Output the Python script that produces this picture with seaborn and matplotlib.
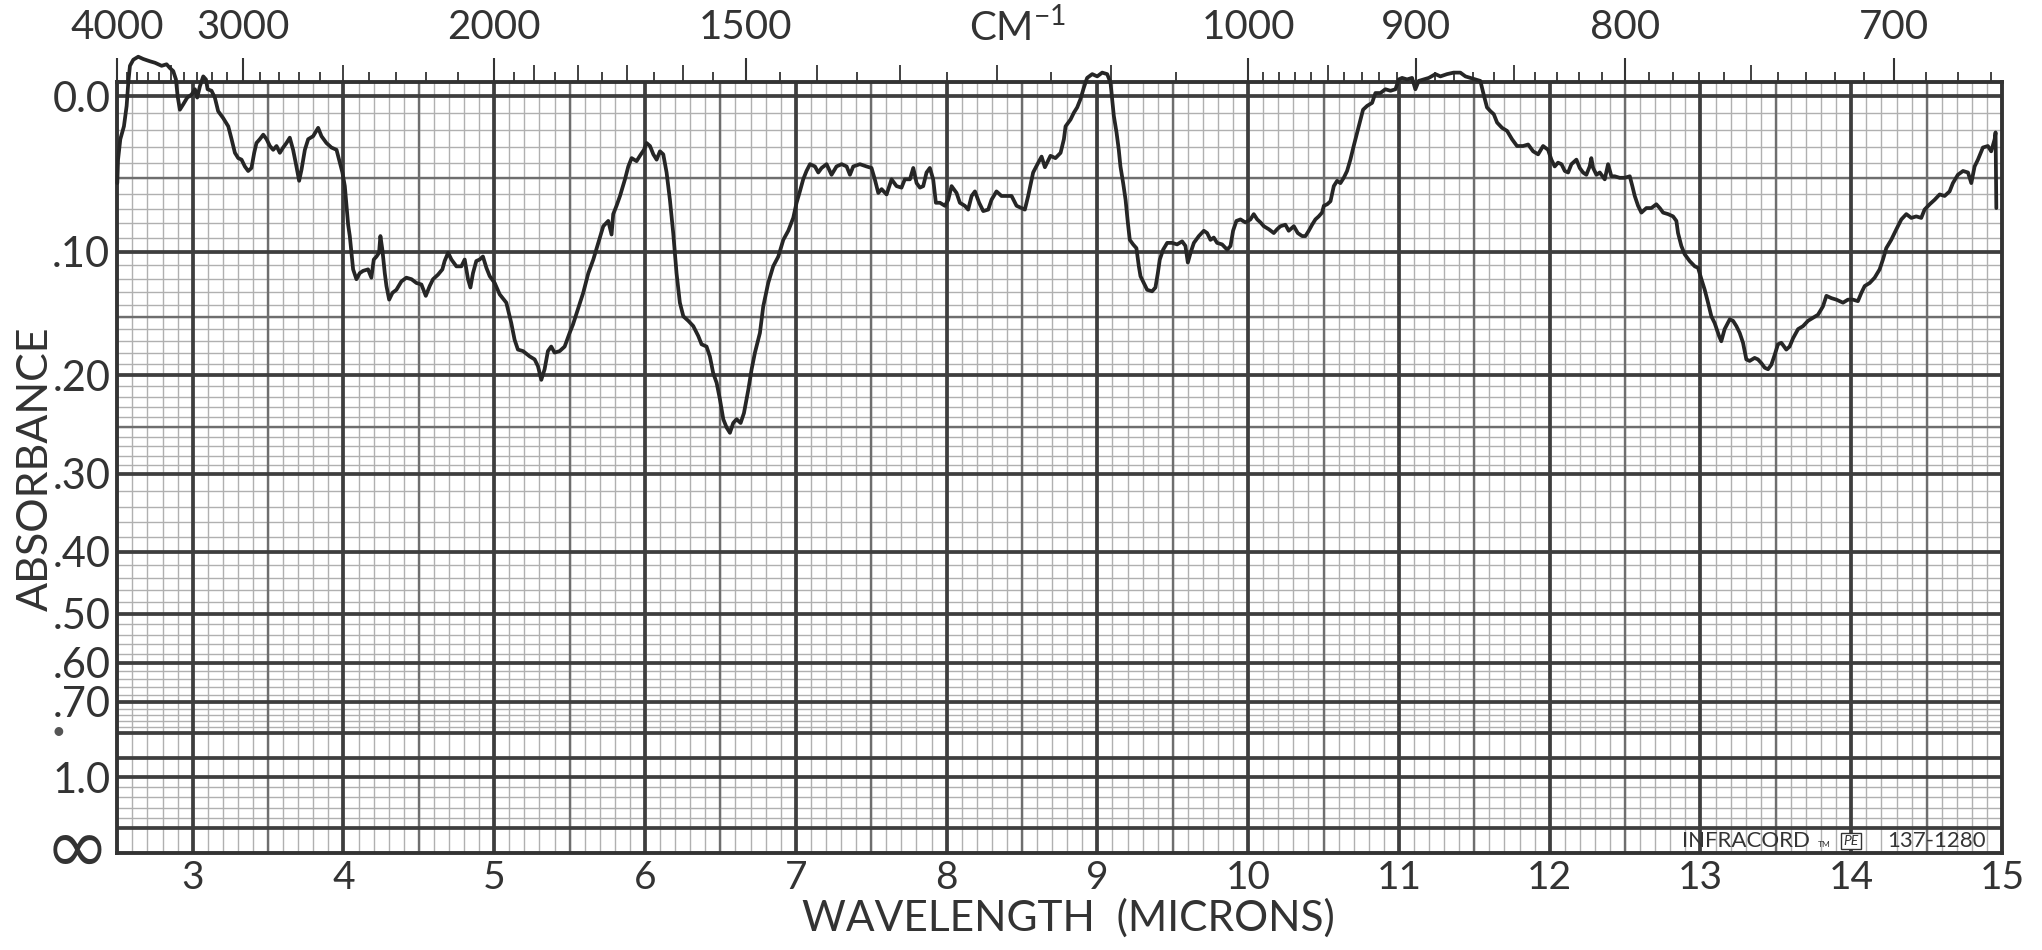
import numpy as np
import pandas as pd
import matplotlib
matplotlib.use("Agg")
import matplotlib.pyplot as plt
import seaborn as sns

# Lecturas del registro: longitud de onda (micras) y transmitancia (fraccion)
wl_1 = [2.500, 2.505, 2.520, 2.544, 2.562, 2.573, 2.584, 2.606, 2.639, 2.672,
        2.716, 2.750, 2.794, 2.827, 2.849, 2.871, 2.889, 2.900, 2.915, 2.937,
        2.964, 2.993, 3.015, 3.030, 3.048, 3.070, 3.088, 3.099, 3.125, 3.147,
        3.169, 3.202, 3.236, 3.258, 3.280, 3.302, 3.324, 3.346, 3.368, 3.390,
        3.408, 3.423, 3.445, 3.468, 3.490, 3.512, 3.534, 3.556, 3.578, 3.600,
        3.622, 3.644, 3.666, 3.688, 3.706, 3.722, 3.744, 3.766, 3.799, 3.832,
        3.854, 3.887, 3.920, 3.954, 3.976, 3.993, 4.009, 4.020, 4.031, 4.042,
        4.053, 4.064, 4.086, 4.108, 4.130, 4.163, 4.185, 4.201, 4.219, 4.236,
        4.245, 4.258, 4.274, 4.285, 4.303, 4.325, 4.351, 4.384, 4.417, 4.451,
        4.484, 4.517, 4.546, 4.572, 4.594, 4.627, 4.656, 4.671, 4.694, 4.716,
        4.749, 4.782, 4.804, 4.826, 4.842, 4.859, 4.881, 4.903, 4.925, 4.948,
        4.970, 5.003, 5.036, 5.080, 5.113, 5.135, 5.157, 5.191, 5.235, 5.268,
        5.290, 5.312, 5.334, 5.356, 5.378, 5.400, 5.434, 5.467, 5.500, 5.522]
tr_1 = [0.885, 0.916, 0.943, 0.960, 0.987, 1.018, 1.040, 1.048, 1.052, 1.049,
        1.046, 1.044, 1.040, 1.042, 1.037, 1.033, 1.022, 1.000, 0.982, 0.989,
        0.998, 1.002, 1.009, 0.998, 1.013, 1.026, 1.022, 1.009, 1.007, 0.998,
        0.980, 0.971, 0.960, 0.943, 0.925, 0.918, 0.916, 0.907, 0.901, 0.905,
        0.925, 0.938, 0.943, 0.949, 0.943, 0.934, 0.929, 0.934, 0.925, 0.932,
        0.938, 0.945, 0.929, 0.907, 0.888, 0.903, 0.929, 0.943, 0.947, 0.958,
        0.947, 0.938, 0.932, 0.929, 0.912, 0.899, 0.881, 0.855, 0.830, 0.815,
        0.793, 0.771, 0.758, 0.766, 0.769, 0.771, 0.760, 0.784, 0.788, 0.793,
        0.815, 0.797, 0.766, 0.749, 0.731, 0.740, 0.744, 0.755, 0.760, 0.758,
        0.753, 0.751, 0.736, 0.749, 0.758, 0.764, 0.771, 0.782, 0.793, 0.784,
        0.775, 0.775, 0.784, 0.758, 0.747, 0.766, 0.782, 0.784, 0.788, 0.773,
        0.762, 0.753, 0.738, 0.727, 0.700, 0.678, 0.665, 0.663, 0.656, 0.652,
        0.643, 0.625, 0.639, 0.663, 0.669, 0.661, 0.663, 0.669, 0.687, 0.698]

wl_2 = [5.590, 5.624, 5.657, 5.690, 5.723, 5.756, 5.778, 5.789, 5.811, 5.834,
        5.867, 5.889, 5.911, 5.944, 5.966, 5.993, 6.010, 6.033, 6.055, 6.077,
        6.099, 6.121, 6.143, 6.165, 6.187, 6.209, 6.231, 6.254, 6.287, 6.320,
        6.353, 6.375, 6.408, 6.430, 6.452, 6.475, 6.497, 6.519, 6.541, 6.563,
        6.585, 6.607, 6.634, 6.656, 6.685, 6.707, 6.729, 6.762, 6.784, 6.817,
        6.850, 6.884, 6.917, 6.950, 6.983, 7.005, 7.027, 7.049, 7.071, 7.094,
        7.127, 7.149, 7.171, 7.204, 7.237, 7.270, 7.304, 7.337, 7.359, 7.381,
        7.425, 7.469, 7.502, 7.524, 7.547, 7.569, 7.602, 7.635, 7.668, 7.701,
        7.723, 7.757, 7.779, 7.801, 7.823, 7.845, 7.867, 7.889, 7.911, 7.929,
        7.956, 7.989, 8.011, 8.033, 8.066, 8.088, 8.121, 8.143, 8.166, 8.188,
        8.216, 8.243, 8.276, 8.298, 8.331, 8.364, 8.398, 8.431, 8.464, 8.497,
        8.519, 8.541, 8.574, 8.608]
tr_2 = [0.740, 0.766, 0.784, 0.806, 0.828, 0.835, 0.817, 0.844, 0.855, 0.868,
        0.890, 0.907, 0.918, 0.914, 0.921, 0.929, 0.938, 0.934, 0.923, 0.916,
        0.927, 0.923, 0.899, 0.863, 0.819, 0.766, 0.727, 0.709, 0.703, 0.696,
        0.683, 0.672, 0.669, 0.656, 0.634, 0.621, 0.599, 0.573, 0.562, 0.555,
        0.568, 0.573, 0.568, 0.581, 0.612, 0.639, 0.661, 0.687, 0.722, 0.753,
        0.775, 0.788, 0.810, 0.822, 0.839, 0.859, 0.874, 0.890, 0.901, 0.910,
        0.907, 0.899, 0.905, 0.910, 0.896, 0.907, 0.910, 0.907, 0.896, 0.907,
        0.910, 0.907, 0.905, 0.890, 0.872, 0.877, 0.870, 0.890, 0.881, 0.879,
        0.890, 0.890, 0.905, 0.885, 0.879, 0.881, 0.899, 0.905, 0.890, 0.859,
        0.859, 0.855, 0.863, 0.881, 0.872, 0.859, 0.855, 0.850, 0.868, 0.874,
        0.859, 0.848, 0.850, 0.863, 0.874, 0.868, 0.868, 0.868, 0.855, 0.852,
        0.850, 0.868, 0.899, 0.912]

wl_3 = [8.630, 8.652, 8.689, 8.722, 8.756, 8.778, 8.789, 8.822, 8.844, 8.866,
        8.888, 8.910, 8.932, 8.966, 8.999, 9.032, 9.065, 9.087, 9.098, 9.109,
        9.127, 9.142, 9.153, 9.171, 9.187, 9.202, 9.215, 9.237, 9.259, 9.275,
        9.286, 9.308, 9.330, 9.363, 9.385, 9.401, 9.414, 9.436, 9.463, 9.496,
        9.529, 9.562, 9.584, 9.600, 9.618, 9.640, 9.673, 9.706, 9.728, 9.750,
        9.772, 9.794, 9.827, 9.861, 9.883, 9.900, 9.922, 9.949, 9.982, 10.015,
        10.037, 10.060, 10.082, 10.104, 10.137, 10.170, 10.192, 10.214, 10.247, 10.269,
        10.303, 10.329, 10.358, 10.380, 10.402, 10.424, 10.446, 10.468, 10.490, 10.502,
        10.524, 10.546, 10.568, 10.590, 10.612, 10.634, 10.656, 10.678, 10.700, 10.723,
        10.745, 10.762, 10.789, 10.822, 10.844, 10.877, 10.910, 10.944, 10.977, 10.999,
        11.021, 11.054, 11.087, 11.109, 11.131, 11.165, 11.198, 11.242, 11.275, 11.319,
        11.363, 11.407, 11.441, 11.474, 11.507, 11.540, 11.562, 11.584, 11.607, 11.629,
        11.651, 11.684, 11.717, 11.750, 11.783]
tr_3 = [0.920, 0.906, 0.921, 0.918, 0.925, 0.943, 0.960, 0.969, 0.978, 0.985,
        0.996, 1.011, 1.024, 1.029, 1.026, 1.031, 1.029, 1.018, 0.996, 0.974,
        0.952, 0.929, 0.907, 0.885, 0.863, 0.833, 0.810, 0.804, 0.799, 0.775,
        0.762, 0.753, 0.744, 0.742, 0.747, 0.766, 0.784, 0.797, 0.806, 0.806,
        0.804, 0.808, 0.802, 0.780, 0.793, 0.806, 0.815, 0.822, 0.819, 0.810,
        0.813, 0.806, 0.804, 0.797, 0.802, 0.822, 0.835, 0.837, 0.833, 0.837,
        0.844, 0.837, 0.833, 0.828, 0.824, 0.819, 0.824, 0.828, 0.830, 0.822,
        0.828, 0.819, 0.815, 0.815, 0.822, 0.830, 0.837, 0.841, 0.846, 0.855,
        0.857, 0.861, 0.881, 0.888, 0.885, 0.892, 0.901, 0.916, 0.934, 0.952,
        0.969, 0.982, 0.987, 0.991, 1.004, 1.004, 1.009, 1.007, 1.009, 1.022,
        1.024, 1.022, 1.024, 1.009, 1.020, 1.022, 1.024, 1.029, 1.026, 1.029,
        1.031, 1.031, 1.026, 1.024, 1.022, 1.020, 1.002, 0.985, 0.980, 0.976,
        0.965, 0.958, 0.954, 0.943, 0.934]

wl_4 = [11.823, 11.857, 11.890, 11.923, 11.956, 11.989, 12.011, 12.033, 12.055, 12.078,
        12.100, 12.122, 12.144, 12.177, 12.199, 12.221, 12.243, 12.265, 12.276, 12.288,
        12.310, 12.332, 12.365, 12.387, 12.409, 12.431, 12.464, 12.497, 12.531, 12.548,
        12.564, 12.586, 12.608, 12.641, 12.674, 12.707, 12.730, 12.752, 12.785, 12.818,
        12.840, 12.851, 12.873, 12.895, 12.928, 12.962, 12.984, 13.006, 13.028, 13.050,
        13.072, 13.094, 13.123, 13.138, 13.160, 13.194, 13.216, 13.238, 13.260, 13.282,
        13.304, 13.326, 13.359, 13.381, 13.404, 13.426, 13.448, 13.470, 13.492, 13.514,
        13.536, 13.569, 13.591, 13.614, 13.647, 13.680, 13.713, 13.746, 13.779, 13.812,
        13.835, 13.868, 13.901, 13.945, 13.978, 14.011, 14.044, 14.067, 14.089, 14.122,
        14.155, 14.188, 14.210, 14.232, 14.265, 14.299, 14.332, 14.365, 14.398, 14.431,
        14.464, 14.486, 14.520, 14.553, 14.586, 14.619, 14.652, 14.674, 14.707, 14.741,
        14.774, 14.796, 14.818, 14.840, 14.873, 14.906, 14.928, 14.951, 14.957, 14.962]
tr_4 = [0.934, 0.936, 0.927, 0.923, 0.934, 0.929, 0.916, 0.907, 0.912, 0.910,
        0.901, 0.899, 0.910, 0.916, 0.905, 0.899, 0.896, 0.907, 0.918, 0.905,
        0.896, 0.899, 0.890, 0.910, 0.894, 0.894, 0.892, 0.892, 0.894, 0.881,
        0.868, 0.855, 0.846, 0.852, 0.852, 0.857, 0.852, 0.846, 0.844, 0.841,
        0.835, 0.819, 0.802, 0.791, 0.782, 0.775, 0.773, 0.758, 0.744, 0.727,
        0.709, 0.700, 0.683, 0.676, 0.692, 0.705, 0.703, 0.696, 0.687, 0.674,
        0.652, 0.650, 0.654, 0.652, 0.647, 0.641, 0.639, 0.645, 0.658, 0.672,
        0.674, 0.665, 0.669, 0.680, 0.692, 0.696, 0.703, 0.707, 0.711, 0.722,
        0.736, 0.733, 0.731, 0.727, 0.731, 0.731, 0.729, 0.740, 0.749, 0.753,
        0.760, 0.771, 0.784, 0.799, 0.810, 0.824, 0.837, 0.844, 0.839, 0.841,
        0.839, 0.850, 0.857, 0.863, 0.870, 0.868, 0.874, 0.885, 0.896, 0.901,
        0.899, 0.885, 0.907, 0.916, 0.932, 0.934, 0.927, 0.943, 0.952, 0.852]

for w, t in [(wl_1, tr_1), (wl_2, tr_2), (wl_3, tr_3), (wl_4, tr_4)]:
    assert len(w) == len(t)

# Escalas impresas en el papel
micron_ticks = list(range(3, 16))
abs_ticks = [0.0, 0.1, 0.2, 0.3, 0.4, 0.5, 0.6, 0.7, 1.0]
abs_labels = ["0.0", ".10", ".20", ".30", ".40", ".50", ".60", ".70", "1.0"]
abs_heavy = [0.0, 0.1, 0.2, 0.3, 0.4, 0.5, 0.6, 0.7, 0.8, 0.9, 1.0]
abs_medium = [0.05, 0.15, 0.25]
abs_fine = [round(0.01 * i, 2) for i in range(1, 30)] + [round(0.30 + 0.02 * i, 2) for i in range(1, 25)]
strip_T = 0.033
tail_T = [0.0866, 0.0732, 0.0598, 0.0464]

cm_labels = [4000, 3000, 2000, 1500, 1000, 900, 800, 700]
cm_medium = [3500, 2500, 1900, 1800, 1700, 1600, 1400, 1300, 1200, 1100, 950, 850, 750]
cm_short = ([c for c in range(3900, 2000, -100) if c not in (3500, 3000, 2500)]
            + [1950, 1850, 1750, 1650, 1550, 1450, 1350, 1250, 1150, 1050]
            + [c for c in range(990, 660, -10) if c not in (950, 900, 850, 800, 750, 700)])

# ---- datos ----
df = pd.DataFrame({
    "wavelength": wl_1 + wl_2 + wl_3 + wl_4,
    "transmittance": tr_1 + tr_2 + tr_3 + tr_4,
})
df["absorbance"] = -np.log10(df["transmittance"])


def a_to_paper(a):
    # papel lineal en transmitancia
    return 1.0 - np.power(10.0, -np.asarray(a, dtype=float))


def paper_to_a(u):
    return -np.log10(np.clip(1.0 - np.asarray(u, dtype=float), 1e-12, None))


def mu_to_cm(x):
    x = np.asarray(x, dtype=float)
    with np.errstate(divide="ignore", invalid="ignore"):
        return 1e4 / x


sns.set_theme(style="white")
plt.rcParams["font.family"] = ["Lato", "DejaVu Sans"]
ink = "#333333"
heavy_c, med_c, fine_c = "#3e3e3e", "#6e6e6e", "#b0b0b0"

fig = plt.figure(figsize=(20.42, 9.5), dpi=100)
ax = fig.add_axes([0.05744, 0.1023, 0.9230, 0.8117])
ax.set_yscale("function", functions=(a_to_paper, paper_to_a))

# cuadricula del papel
mu_fine = np.round(np.arange(2.6, 15.0, 0.1), 2)
for x in mu_fine:
    ax.axvline(x, color=fine_c, lw=1.0, zorder=1)
for x in np.arange(3.5, 15.0, 1.0):
    ax.axvline(x, color=med_c, lw=1.7, zorder=1.5)
for x in micron_ticks[:-1]:
    ax.axvline(x, color=heavy_c, lw=2.7, zorder=2)

for a in abs_fine:
    ax.axhline(a, color=fine_c, lw=1.0, zorder=1)
for t in tail_T:
    ax.axhline(-np.log10(t), color=fine_c, lw=1.0, zorder=1)
for a in abs_medium:
    ax.axhline(a, color=med_c, lw=1.7, zorder=1.5)
for a in abs_heavy + [-np.log10(strip_T)]:
    ax.axhline(a, color=heavy_c, lw=2.7, zorder=2)

sns.lineplot(data=df, x="wavelength", y="absorbance", sort=False, estimator=None,
             color="#262626", linewidth=2.7, ax=ax, zorder=5)
ax.lines[-1].set_clip_on(False)

ax.set_xlim(2.5, 15)
ax.set_ylim(8, -0.00817)
ax.set_xlabel("")
ax.set_ylabel("")

ax.set_xticks(micron_ticks)
ax.set_xticklabels([str(m) for m in micron_ticks])
ax.set_yticks(abs_ticks)
ax.set_yticklabels(abs_labels)
ax.minorticks_off()
ax.tick_params(axis="x", length=0, pad=5, labelsize=28, colors=ink)
ax.tick_params(axis="y", length=0, pad=5, labelsize=30, colors=ink)
for s in ax.spines.values():
    s.set_visible(True)
    s.set_color("#333333")
    s.set_linewidth(2.8)

# escala superior en cm-1
top = ax.secondary_xaxis("top", functions=(mu_to_cm, mu_to_cm))
top.set_xticks(cm_labels)
top.set_xticklabels([str(c) for c in cm_labels])
top.set_xticks(cm_short, minor=True)
top.tick_params(axis="x", which="major", length=17, width=1.5, pad=9, labelsize=29,
                colors=ink)
top.tick_params(axis="x", which="minor", length=7, width=1.3, colors=ink)
top.spines["top"].set_visible(False)

top_mid = ax.secondary_xaxis("top", functions=(mu_to_cm, mu_to_cm))
top_mid.set_xticks(cm_medium)
top_mid.set_xticklabels([])
top_mid.tick_params(axis="x", which="major", length=12, width=1.3, colors=ink)
top_mid.spines["top"].set_visible(False)

ax.text(8.47, 1.0697, r"CM$^{\mathregular{-1}}$", transform=ax.get_xaxis_transform(),
        ha="center", va="center", fontsize=29, color=ink)

# textos del papel
ax.text(-0.004, 0.0, "\u221e", transform=ax.transAxes, ha="right", va="center",
        fontsize=56, color=ink, family=["Noto Sans", "DejaVu Sans"])
ax.text(-0.031, 0.8, "\u2022", transform=ax.get_yaxis_transform(), ha="center",
        va="center", fontsize=17, color="#555555")
fig.text(36 / 2042, 1 - 469 / 950, "ABSORBANCE", rotation=90, ha="center",
         va="center", fontsize=31, color=ink)
fig.text(1068 / 2042, 1 - 918 / 950, "WAVELENGTH  (MICRONS)", ha="center",
         va="center", fontsize=30.5, color=ink)

strip_y = 0.0153
xt = ax.get_xaxis_transform()
ax.text(12.876, strip_y, "INFRACORD", transform=xt, ha="left", va="center",
        fontsize=16, color=ink, zorder=6)
ax.text(13.775, strip_y - 0.004, "TM", transform=xt, ha="left", va="center",
        fontsize=6, color=ink, zorder=6)
ax.text(13.999, strip_y, "PE", transform=xt, ha="center", va="center",
        fontsize=10, style="italic", color=ink, zorder=6,
        bbox=dict(boxstyle="square,pad=0.15", fc="white", ec=ink, lw=1.0))
ax.text(14.235, strip_y, "137-1280", transform=xt, ha="left", va="center",
        fontsize=16, color=ink, zorder=6)

fig.savefig("out.png", dpi=100, facecolor="white")
